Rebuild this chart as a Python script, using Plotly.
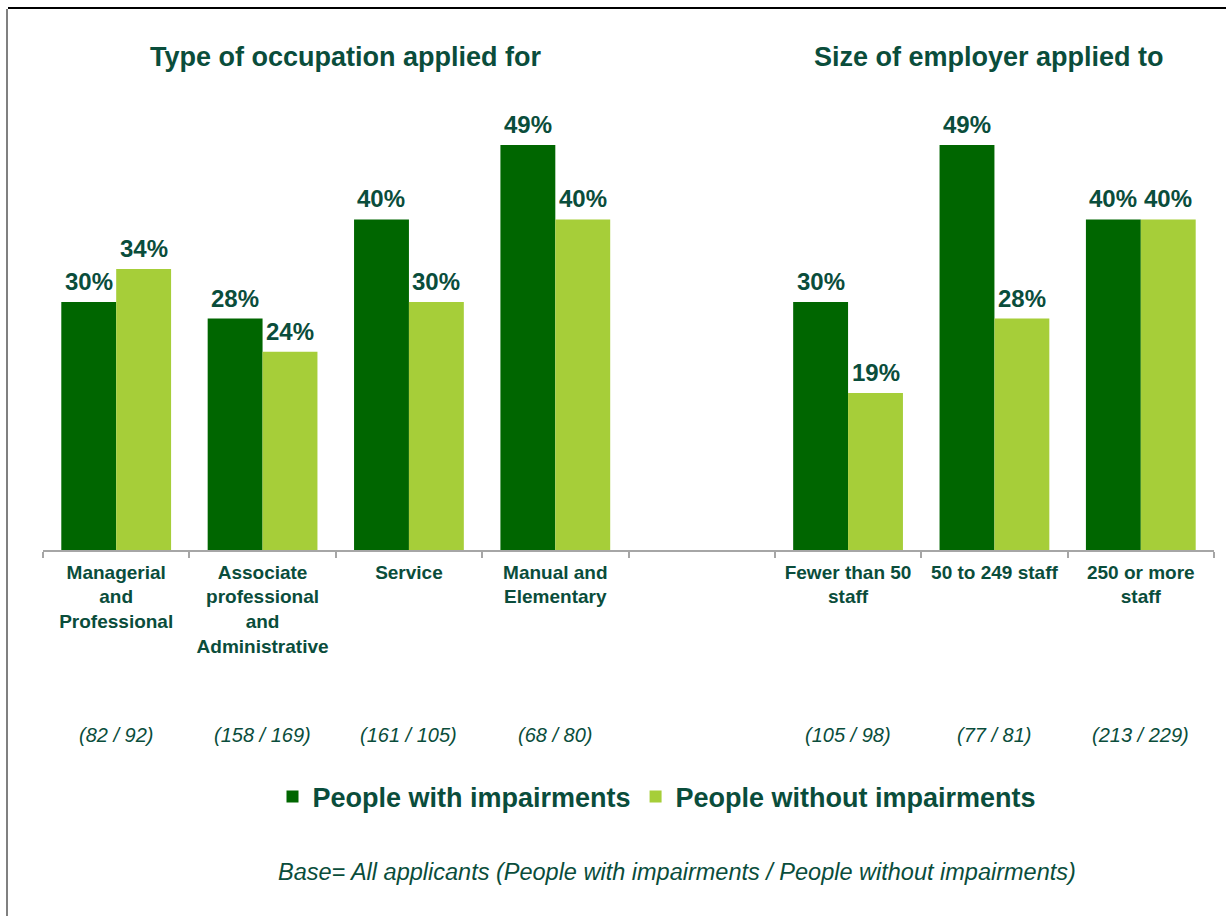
import plotly.graph_objects as go

# Categories: four occupation groups, a spacer slot, three employer sizes
categories = [
    "Managerial<br>and<br>Professional",
    "Associate<br>professional<br>and<br>Administrative",
    "Service",
    "Manual and<br>Elementary",
    " ",
    "Fewer than 50<br>staff",
    "50 to 249 staff",
    "250 or more<br>staff",
]
with_impairments = [30, 28, 40, 49, None, 30, 49, 40]
without_impairments = [34, 24, 30, 40, None, 19, 28, 40]
base_sizes = ["(82 / 92)", "(158 / 169)", "(161 / 105)", "(68 / 80)", "",
              "(105 / 98)", "(77 / 81)", "(213 / 229)"]

section_titles = ["Type of occupation applied for", "Size of employer applied to"]
series_names = ["People with impairments", "People without impairments"]
footnote = "Base= All applicants (People with impairments / People without impairments)"

DARK = "#006600"
LIGHT = "#A6CE39"
TEXT = "#0A4D3B"
FONT = "Liberation Sans, Arial, sans-serif"

W, H = 1226, 916
ML, MR, MT, MB = 43, 12, 100, 366
PW, PH = W - ML - MR, H - MT - MB
BARGAP = 0.25
# half of one bar's width in pixels, used to centre value labels on bars
HALF_BAR = PW / len(categories) * (1 - BARGAP) / 4


def px_x(x):
    return (x - ML) / PW


def px_y(y):
    return (H - MB - y) / PH


fig = go.Figure()
for name, vals, color in [(series_names[0], with_impairments, DARK),
                          (series_names[1], without_impairments, LIGHT)]:
    fig.add_trace(go.Bar(
        name=name, x=categories, y=vals, marker_color=color,
        marker_line_width=0,
    ))

annotations = []
# Percentage labels above each bar
for vals, side in [(with_impairments, -1), (without_impairments, 1)]:
    for cat, v in zip(categories, vals):
        if v is None:
            continue
        annotations.append(dict(
            text=f"{v}%", x=cat, y=v, xref="x", yref="y",
            xanchor="center", yanchor="bottom", showarrow=False,
            xshift=side * HALF_BAR, yshift=5,
            font=dict(family=FONT, size=24, color=TEXT, weight="bold")))
# Section headings
for title, cx in zip(section_titles, [346, 989]):
    annotations.append(dict(
        text=title, x=px_x(cx), y=px_y(57), xref="paper", yref="paper",
        xanchor="center", yanchor="middle", showarrow=False,
        font=dict(family=FONT, size=27, color=TEXT, weight="bold")))
# Sample sizes under each category
for cat, b in zip(categories, base_sizes):
    if b:
        annotations.append(dict(
            text=f"<i>{b}</i>", x=cat, y=px_y(735), xref="x", yref="paper",
            xanchor="center", yanchor="middle", showarrow=False,
            font=dict(family=FONT, size=20, color=TEXT)))
# Base note
annotations.append(dict(
    text=f"<i>{footnote}</i>", x=px_x(677), y=px_y(872), xref="paper",
    yref="paper", xanchor="center", yanchor="middle", showarrow=False,
    font=dict(family=FONT, size=23.5, color=TEXT)))

# Frame lines along the top and left edges
shapes = [
    dict(type="line", xref="paper", yref="paper",
         x0=px_x(8), x1=px_x(W), y0=px_y(8), y1=px_y(8),
         line=dict(color="#000000", width=2)),
    dict(type="line", xref="paper", yref="paper",
         x0=px_x(7), x1=px_x(7), y0=px_y(9), y1=px_y(H),
         line=dict(color="#808080", width=2)),
]

fig.update_layout(
    width=W, height=H,
    margin=dict(l=ML, r=MR, t=MT, b=MB),
    paper_bgcolor="white", plot_bgcolor="white",
    barmode="group", bargap=BARGAP, bargroupgap=0,
    showlegend=True,
    legend=dict(orientation="h", x=px_x(657), xanchor="center",
                y=px_y(797), yanchor="middle",
                font=dict(family=FONT, size=27, color=TEXT, weight="bold"),
                tracegroupgap=0),
    annotations=annotations, shapes=shapes,
    xaxis=dict(
        categoryorder="array", categoryarray=categories,
        showline=True, linecolor="#A6A6A6", linewidth=1.5,
        ticks="outside", tickson="boundaries", ticklen=6,
        tickcolor="#A6A6A6", tickwidth=1.5, ticklabelstandoff=4,
        tickfont=dict(family=FONT, size=19, color=TEXT, weight="bold"),
        showgrid=False, zeroline=False, range=[-0.5, 7.5],
    ),
    yaxis=dict(range=[0, 54.45], visible=False, showgrid=False,
               zeroline=False),
)

fig.write_html("out.html")
